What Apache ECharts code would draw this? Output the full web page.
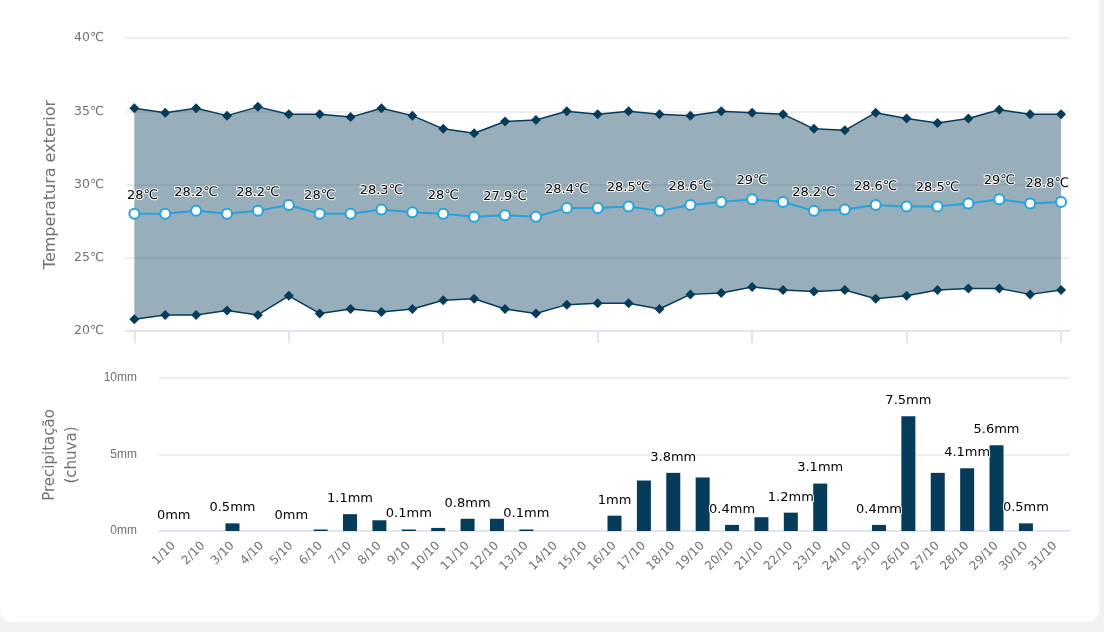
<!DOCTYPE html>
<html>
<head>
<meta charset="utf-8">
<script src="https://cdn.jsdelivr.net/npm/echarts@6/dist/echarts.min.js"></script>
<style>
  html, body { margin: 0; padding: 0; background: #f0f2f5; }
  .card {
    position: absolute; left: 0; top: -20px;
    width: 1099px; height: 642px;
    background: #fff; border-radius: 12px;
  }
  #chartBox { position: absolute; left: 0; top: 0; width: 1104px; height: 632px; }
</style>
</head>
<body>
<div class="card"></div>
<div id="chartBox"></div>
<script>
// dias de outubro
var dias = ["1/10","2/10","3/10","4/10","5/10","6/10","7/10","8/10","9/10","10/10",
  "11/10","12/10","13/10","14/10","15/10","16/10","17/10","18/10","19/10","20/10",
  "21/10","22/10","23/10","24/10","25/10","26/10","27/10","28/10","29/10","30/10","31/10"];

// temperatura (°C)
var tempMax = [35.2,34.9,35.2,34.7,35.3,34.8,34.8,34.6,35.2,34.7,
  33.8,33.5,34.3,34.4,35.0,34.8,35.0,34.8,34.7,35.0,
  34.9,34.8,33.8,33.7,34.9,34.5,34.2,34.5,35.1,34.8,34.8];
var tempMin = [20.8,21.1,21.1,21.4,21.1,22.4,21.2,21.5,21.3,21.5,
  22.1,22.2,21.5,21.2,21.8,21.9,21.9,21.5,22.5,22.6,
  23.0,22.8,22.7,22.8,22.2,22.4,22.8,22.9,22.9,22.5,22.8];
var tempMedia = [28,28,28.2,28,28.2,28.6,28,28,28.3,28.1,
  28,27.8,27.9,27.8,28.4,28.4,28.5,28.2,28.6,28.8,
  29,28.8,28.2,28.3,28.6,28.5,28.5,28.7,29,28.7,28.8];

// chuva (mm)
var chuva = [0,0,0.5,0,0,0.1,1.1,0.7,0.1,0.2,
  0.8,0.8,0.1,0,0,1,3.3,3.8,3.5,0.4,
  0.9,1.2,3.1,0,0.4,7.5,3.8,4.1,5.6,0.5,0];

var tempTicks = [0, 5, 10, 15, 20, 25, 30];

var navy = "#063b5a";
var azul = "#29a2dc";
var cinza = "#6e7079";
var linhaEixo = "#e0e6f1";
var gridLeft = 126, gridRight = 1070;

// pares [indice, valor] para o eixo x numerico de cima
function pares(arr) {
  return arr.map(function (v, i) { return [i, v]; });
}

var labelTexto = {
  color: "#000",
  fontSize: 13,
  textBorderColor: "#fff",
  textBorderWidth: 2
};

var option = {
  animation: false,
  textStyle: { fontFamily: "DejaVu Sans" },
  grid: [
    { left: gridLeft, right: 1104 - gridRight, top: 38, height: 293 },
    { left: 159, right: 1104 - gridRight, top: 378, height: 153 }
  ],
  // nome do eixo da chuva (duas linhas)
  graphic: [
    {
      type: "text",
      x: 61,
      y: 455,
      rotation: Math.PI / 2,
      style: {
        text: "Precipitação\n(chuva)",
        fill: cinza,
        font: "15px 'DejaVu Sans'",
        lineHeight: 22,
        align: "center",
        verticalAlign: "middle",
        textAlign: "center",
        textVerticalAlign: "middle"
      }
    }
  ],
  xAxis: [
    {
      type: "value",
      gridIndex: 0,
      min: -0.27,
      max: 30.29,
      z: 10,
      axisLine: { lineStyle: { color: linhaEixo, width: 2 } },
      axisTick: { show: true, length: 12, customValues: tempTicks, lineStyle: { color: linhaEixo, width: 2 } },
      axisLabel: { show: false },
      splitLine: { show: false }
    },
    {
      type: "category",
      gridIndex: 1,
      data: dias,
      axisLine: { lineStyle: { color: linhaEixo, width: 2 } },
      axisTick: { show: false },
      axisLabel: { rotate: 45, interval: 0, color: cinza, fontSize: 12, margin: 13 }
    }
  ],
  yAxis: [
    {
      type: "value",
      gridIndex: 0,
      min: 20,
      max: 40,
      interval: 5,
      name: "Temperatura exterior",
      nameLocation: "middle",
      nameGap: 67,
      nameTextStyle: { color: cinza, fontSize: 16 },
      axisLine: { show: false },
      axisTick: { show: false },
      axisLabel: { formatter: "{value}℃", color: cinza, fontSize: 12.5, margin: 22 },
      splitLine: { lineStyle: { color: "#eeeeee", width: 2 } }
    },
    {
      type: "value",
      gridIndex: 1,
      min: 0,
      max: 10,
      interval: 5,
      axisLine: { show: false },
      axisTick: { show: false },
      axisLabel: { formatter: "{value}mm", color: cinza, fontSize: 12, fontFamily: "sans-serif", margin: 22 },
      splitLine: { lineStyle: { color: "#eeeeee", width: 2 } }
    }
  ],
  series: [
    {
      name: "Máxima",
      type: "line",
      xAxisIndex: 0,
      yAxisIndex: 0,
      data: pares(tempMax),
      symbol: "diamond",
      symbolSize: 10,
      itemStyle: { color: navy },
      lineStyle: { color: navy, width: 1.5 },
      areaStyle: { color: navy, opacity: 0.41, origin: "start" }
    },
    {
      name: "Mínima",
      type: "line",
      xAxisIndex: 0,
      yAxisIndex: 0,
      data: pares(tempMin),
      symbol: "diamond",
      symbolSize: 10,
      itemStyle: { color: navy },
      lineStyle: { color: navy, width: 1.5 },
      // tapa a parte abaixo da minima
      areaStyle: { color: "#ffffff", opacity: 1, origin: "start" }
    },
    {
      name: "Média",
      type: "line",
      xAxisIndex: 0,
      yAxisIndex: 0,
      data: pares(tempMedia),
      symbol: "circle",
      symbolSize: 10,
      z: 5,
      itemStyle: { color: "#fff", borderColor: azul, borderWidth: 2 },
      lineStyle: { color: azul, width: 2 },
      label: Object.assign({
        show: true,
        position: "top",
        distance: 6,
        formatter: function (p) { return p.value[1] + "℃"; }
      }, labelTexto),
      labelLayout: function (params) {
        var r = params.labelRect;
        var left = Math.min(Math.max(r.x, gridLeft), gridRight - r.width);
        return {
          hideOverlap: true,
          x: left + r.width / 2,
          y: r.y + r.height / 2,
          align: "center",
          verticalAlign: "middle"
        };
      }
    },
    {
      name: "Chuva",
      type: "bar",
      xAxisIndex: 1,
      yAxisIndex: 1,
      data: chuva,
      barWidth: 14,
      itemStyle: { color: navy },
      label: Object.assign({
        show: true,
        position: "top",
        distance: 7,
        lineHeight: 17,
        formatter: function (p) { return p.value + "mm"; }
      }, labelTexto),
      labelLayout: { hideOverlap: true }
    }
  ]
};

var chartLine = echarts.init(document.getElementById("chartBox"));
chartLine.setOption(option);
</script>
</body>
</html>
